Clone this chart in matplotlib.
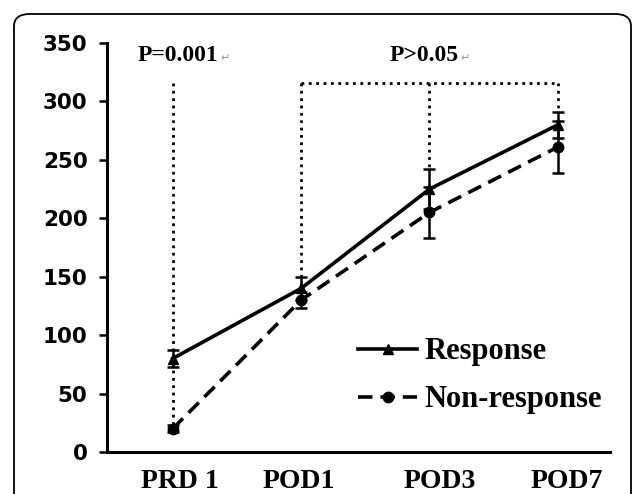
import matplotlib
matplotlib.use("Agg")
import matplotlib.pyplot as plt
from matplotlib.patches import FancyBboxPatch

# Data
timepoints = ['PRD 1', 'POD1', 'POD3', 'POD7']
response = [80, 140, 225, 280]
response_err = [7, 9.5, 17, 11]
non_response = [20, 130, 205, 261]
non_response_err = [3, 7, 22, 22]
bracket_level = 316
p_labels = ['P=0.001', 'P>0.05']

serif = ['Liberation Serif', 'DejaVu Serif']

fig = plt.figure(figsize=(6.33, 4.94), dpi=100)
ax = fig.add_axes([107 / 633, 42 / 494, (610 - 107) / 633, 409 / 494])

# rounded frame around the whole chart (bottom edge runs off the picture)
frame = FancyBboxPatch((14 / 633, -0.05), 617 / 633, 1.0 - 14 / 494 + 0.05,
                       boxstyle="round,pad=0,rounding_size=0.025",
                       transform=fig.transFigure, fill=False,
                       edgecolor='black', linewidth=1.3, clip_on=False)
fig.patches.append(frame)

x = list(range(len(timepoints)))

# dotted comparison guides
ax.plot([x[0], x[0]], [bracket_level, non_response[0]], ls=':', color='black', lw=2)
ax.plot([x[1], x[3]], [bracket_level, bracket_level], ls=':', color='black', lw=2)
for i in x[1:]:
    ax.plot([x[i], x[i]], [bracket_level, response[i] + response_err[i]],
            ls=':', color='black', lw=2)

# error bars
ax.errorbar(x, response, yerr=response_err, fmt='none', ecolor='black',
            elinewidth=1.8, capsize=4.5, capthick=1.8)
ax.errorbar(x, non_response, yerr=non_response_err, fmt='none', ecolor='black',
            elinewidth=1.8, capsize=4.5, capthick=1.8)

# main series
l1, = ax.plot(x, response, '-', color='black', lw=2.6, marker='^', ms=7.5,
              label='Response')
l2, = ax.plot(x, non_response, '--', color='black', lw=2.6, marker='o', ms=7.5,
              dashes=(4, 2.2), label='Non-response')

# p-value labels, each followed by the stray paragraph mark
p_pos = [(0.353, 339), (2.23, 339)]
for (px, py), txt in zip(p_pos, p_labels):
    ax.text(px, py, txt, ha='right', va='center', fontsize=17,
            fontweight='bold', family=serif)
    ax.text(px + 0.015, py - 2, '\u21b5', ha='left', va='center', fontsize=8,
            color='#999999', family=['DejaVu Sans'])

ax.set_xlim(-0.512, 3.406)
ax.set_ylim(0, 350)
ax.set_yticks(range(0, 351, 50))
# the category labels in the source sit a little right of their points
label_shift = [0.055, -0.015, 0.08, 0.07]
ax.set_xticks([i + s for i, s in zip(x, label_shift)])
ax.set_xticklabels(timepoints, fontsize=20, fontweight='bold', family=serif)

for lab in ax.get_yticklabels():
    lab.set_fontsize(15.5)
    lab.set_fontweight('bold')
    lab.set_family('DejaVu Sans')

ax.tick_params(axis='y', direction='out', length=6, width=1.8, pad=8, colors='black')
ax.tick_params(axis='x', length=0, pad=12)

ax.spines['top'].set_visible(False)
ax.spines['right'].set_visible(False)
ax.spines['left'].set_linewidth(2.2)
ax.spines['bottom'].set_linewidth(2.2)

ax.legend(handles=[l1, l2], loc='upper left', bbox_to_anchor=(0.500, 0.28),
          frameon=False, prop={'family': serif, 'weight': 'bold', 'size': 22},
          handlelength=1.9, handletextpad=0.25, labelspacing=0.62,
          borderpad=0, borderaxespad=0)

fig.savefig('out.png', dpi=100)
